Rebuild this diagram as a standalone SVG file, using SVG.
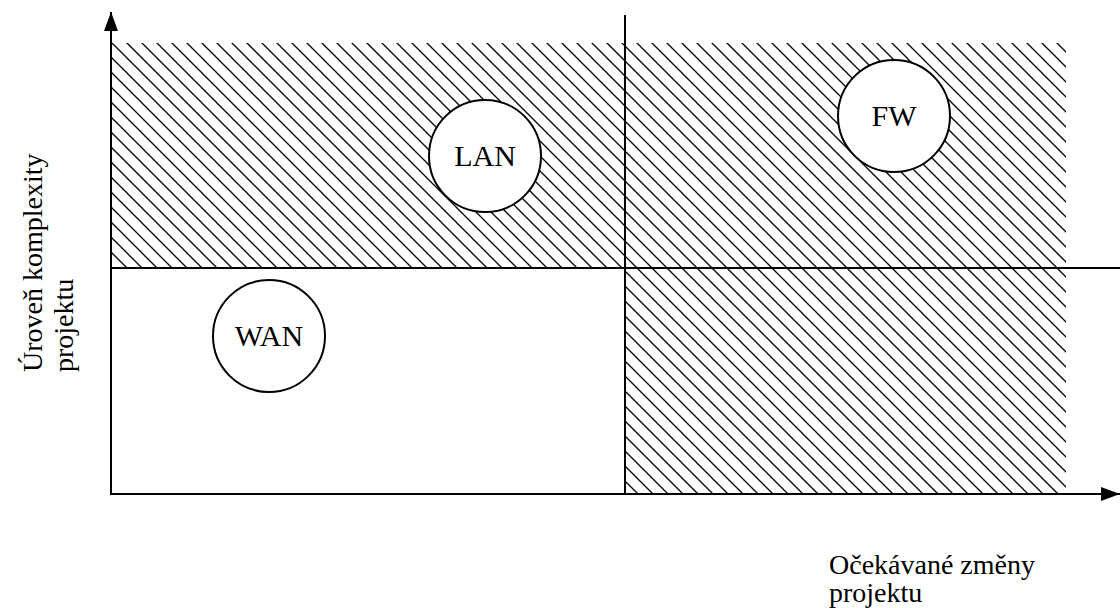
<svg xmlns="http://www.w3.org/2000/svg" width="1120" height="608" viewBox="0 0 1120 608">
<defs>
<style>
.ax{stroke:#000;stroke-width:2;fill:none}
.nd{fill:#fff;stroke:#000;stroke-width:2}
.t{font-family:"Liberation Serif","Times New Roman",serif;fill:#000}
.nt{font-size:30px;text-anchor:middle}
.lb{font-size:28px}
</style>
<pattern id="hatch" patternUnits="userSpaceOnUse" width="15" height="15" x="112" y="43">
<path d="M-2,-2 L17,17 M-2,13 L2,17 M13,-2 L17,2" stroke="#000" stroke-width="1.3"/>
</pattern>
<marker id="arr" markerWidth="20" markerHeight="14" refX="19" refY="7" orient="auto" markerUnits="userSpaceOnUse">
<path d="M0,0 L19,7 L0,14 Z" fill="#000"/>
</marker>
</defs>
<rect x="112" y="43" width="954" height="225" fill="url(#hatch)"/>
<rect x="625" y="268" width="441" height="225" fill="url(#hatch)"/>
<g id="connectors">
<line class="ax" x1="111" y1="494" x2="111" y2="12" marker-end="url(#arr)"/>
<line class="ax" x1="110" y1="494" x2="1120" y2="494" marker-end="url(#arr)"/>
<line class="ax" x1="111" y1="268" x2="1120" y2="268"/>
<line class="ax" x1="625" y1="15" x2="625" y2="494"/>
</g>
<g id="node-lan">
<circle class="nd" cx="485" cy="156" r="56"/>
<text class="t nt" x="485" y="166">LAN</text>
</g>
<g id="node-fw">
<circle class="nd" cx="894" cy="116" r="56"/>
<text class="t nt" x="894" y="126">FW</text>
</g>
<g id="node-wan">
<circle class="nd" cx="269" cy="336" r="56"/>
<text class="t nt" x="269" y="346">WAN</text>
</g>
<g id="label-y">
<text class="t lb" transform="translate(42,372) rotate(-90)">Úroveň komplexity</text>
<text class="t lb" transform="translate(73,372) rotate(-90)">projektu</text>
</g>
<g id="label-x">
<text class="t lb" x="829" y="574">Očekávané změny</text>
<text class="t lb" x="829" y="602">projektu</text>
</g>
</svg>
